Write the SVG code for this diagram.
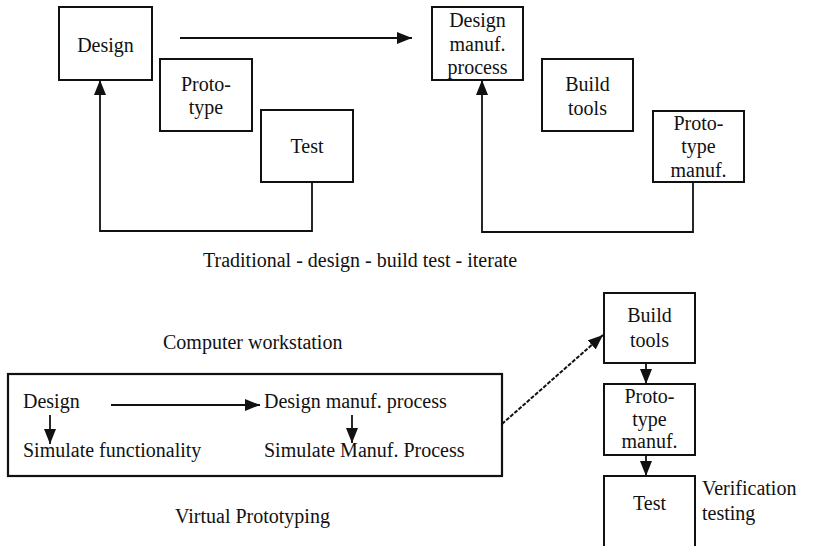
<svg xmlns="http://www.w3.org/2000/svg" width="826" height="546" viewBox="0 0 826 546">
  <style>
    .box { fill: #fff; stroke: #111; stroke-width: 2; }
    .frame { fill: none; stroke: #111; stroke-width: 2.2; }
    .line { fill: none; stroke: #111; stroke-width: 1.8; }
    .dash { fill: none; stroke: #111; stroke-width: 2; stroke-dasharray: 4 1.5; }
    text { font-family: "Liberation Serif", "Times New Roman", serif; font-size: 20px; fill: #111; }
    .c { text-anchor: middle; }
  </style>
  <defs>
    <marker id="arr" viewBox="0 0 15 12" refX="15" refY="6" markerWidth="15" markerHeight="12" markerUnits="userSpaceOnUse" orient="auto">
      <path d="M0,0 L15,6 L0,12 Z" fill="#111"/>
    </marker>
  </defs>
  <rect width="826" height="546" fill="#fff"/>

  <!-- Traditional iteration: design side -->
  <g id="n-design">
    <rect class="box" x="59" y="7" width="93" height="73"/>
    <text class="c" x="105.5" y="52">Design</text>
  </g>
  <g id="n-prototype">
    <rect class="box" x="160" y="59" width="92" height="72"/>
    <text class="c" x="206" y="91">Proto-</text>
    <text class="c" x="206" y="114">type</text>
  </g>
  <g id="n-test">
    <rect class="box" x="261" y="110" width="92" height="72"/>
    <text class="c" x="307" y="153">Test</text>
  </g>

  <!-- Traditional iteration: manufacturing side -->
  <g id="n-design-manuf">
    <rect class="box" x="432" y="7" width="91" height="73"/>
    <text class="c" x="477.5" y="27">Design</text>
    <text class="c" x="477.5" y="51">manuf.</text>
    <text class="c" x="477.5" y="74">process</text>
  </g>
  <g id="n-build-tools">
    <rect class="box" x="542" y="59" width="91" height="72"/>
    <text class="c" x="587.5" y="91">Build</text>
    <text class="c" x="587.5" y="115">tools</text>
  </g>
  <g id="n-proto-manuf">
    <rect class="box" x="653" y="111" width="91" height="71"/>
    <text class="c" x="698.5" y="130">Proto-</text>
    <text class="c" x="698.5" y="153">type</text>
    <text class="c" x="698.5" y="177">manuf.</text>
  </g>

  <g id="caption-traditional">
    <text x="203" y="267">Traditional - design - build test - iterate</text>
  </g>

  <!-- Virtual prototyping workstation -->
  <g id="n-workstation">
    <text x="163" y="349">Computer workstation</text>
    <rect class="frame" x="8" y="374" width="494" height="102"/>
    <text x="23" y="408">Design</text>
    <text x="23" y="457">Simulate functionality</text>
    <text x="264" y="408">Design manuf. process</text>
    <text x="264" y="457">Simulate Manuf. Process</text>
    <text x="175" y="523">Virtual Prototyping</text>
  </g>

  <!-- Physical verification chain -->
  <g id="n-build-tools-2">
    <rect class="box" x="604" y="293" width="91" height="70"/>
    <text class="c" x="649.5" y="322">Build</text>
    <text class="c" x="649.5" y="347">tools</text>
  </g>
  <g id="n-proto-manuf-2">
    <rect class="box" x="604" y="384" width="91" height="71"/>
    <text class="c" x="649.5" y="403">Proto-</text>
    <text class="c" x="649.5" y="426">type</text>
    <text class="c" x="649.5" y="448">manuf.</text>
  </g>
  <g id="n-test-2">
    <rect class="box" x="604" y="476" width="91" height="90"/>
    <text class="c" x="649.5" y="510">Test</text>
  </g>
  <g id="caption-verification">
    <text x="702" y="495">Verification</text>
    <text x="702" y="520">testing</text>
  </g>

  <!-- Connectors -->
  <g id="connectors">
    <line class="line" x1="180" y1="38" x2="412" y2="38" marker-end="url(#arr)"/>
    <polyline class="line" points="312,182 312,231 100,231 100,80" marker-end="url(#arr)"/>
    <polyline class="line" points="693,182 693,232 482,232 482,80" marker-end="url(#arr)"/>
    <line class="line" x1="111" y1="405" x2="260" y2="405" marker-end="url(#arr)"/>
    <line class="line" x1="50" y1="415" x2="50" y2="444" marker-end="url(#arr)"/>
    <line class="line" x1="352" y1="415" x2="352" y2="443" marker-end="url(#arr)"/>
    <line class="dash" x1="502" y1="424" x2="603" y2="335" marker-end="url(#arr)"/>
    <line class="line" x1="646" y1="363" x2="646" y2="384" marker-end="url(#arr)"/>
    <line class="line" x1="646" y1="455" x2="646" y2="476" marker-end="url(#arr)"/>
  </g>
</svg>
